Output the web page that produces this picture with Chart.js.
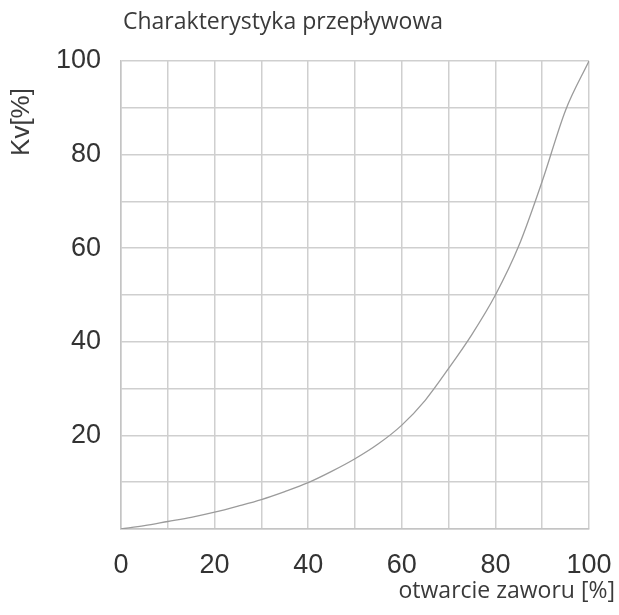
<!DOCTYPE html>
<html>
<head>
<meta charset="utf-8">
<script src="https://cdn.jsdelivr.net/npm/chart.js@4/dist/chart.umd.min.js"></script>
<style>
  html, body { margin: 0; padding: 0; background: #fff; overflow: hidden; }
  #wrap { width: 619px; height: 615px; position: relative; }
  canvas { display: block; }
</style>
</head>
<body>
<div id="wrap"><canvas id="kvChart"></canvas></div>
<script>
// valve opening [%] and Kv [%]
const openPct = [0, 5, 10, 15, 20, 25, 30, 35, 40, 45, 50, 55, 60, 65, 70, 75, 80, 85, 90, 95, 100];
const kvPct = [0, 0.7, 1.6, 2.5, 3.6, 4.9, 6.3, 8.0, 9.9, 12.3, 15, 18.2, 22.2, 27.5, 34.3, 41.6, 50, 60.5, 74.3, 89.5, 100];
const xTickLabels = [0, 20, 40, 60, 80, 100];
const yTickLabels = [20, 40, 60, 80, 100];

const chartTitle = 'Charakterystyka przepływowa';
const xTitle = 'otwarcie zaworu [%]';
const yTitle = 'Kv[%]';

// titles are drawn by hand so they can sit where the original has them
const titlesPlugin = {
  id: 'titles',
  afterDraw(chart) {
    const { ctx, chartArea } = chart;
    ctx.save();
    ctx.fillStyle = '#3a3a3a';
    ctx.font = '23px "Open Sans"';
    ctx.textBaseline = 'alphabetic';
    ctx.textAlign = 'left';
    ctx.fillText(chartTitle, chartArea.left + 2, 29);

    ctx.textAlign = 'right';
    ctx.fillText(xTitle, chartArea.right + 26, 598);

    ctx.font = '26px "Liberation Sans"';
    ctx.textAlign = 'center';
    ctx.textBaseline = 'middle';
    ctx.translate(22, 122);
    ctx.rotate(-Math.PI / 2);
    ctx.fillText(yTitle, 0, 0);
    ctx.restore();
  }
};

const points = openPct.map((x, i) => ({ x: x, y: kvPct[i] }));

new Chart(document.getElementById('kvChart'), {
  type: 'line',
  data: {
    datasets: [{
      data: points,
      borderColor: '#9b9b9b',
      borderWidth: 1.3,
      pointRadius: 0,
      fill: false,
      cubicInterpolationMode: 'monotone'
    }]
  },
  options: {
    responsive: true,
    maintainAspectRatio: false,
    animation: false,
    layout: { padding: { left: 0, right: 30, top: 61, bottom: 0 } },
    plugins: {
      legend: { display: false },
      title: { display: false },
      tooltip: { enabled: false }
    },
    scales: {
      x: {
        type: 'linear',
        min: 0,
        max: 100,
        afterFit(scale) {
          scale.height = 86;
          scale.paddingLeft = 0;
          scale.paddingRight = 0;
        },
        grid: { color: '#cfcfcf', lineWidth: 1.5, drawTicks: false },
        border: { color: '#c4c4c4', width: 1.5 },
        ticks: {
          stepSize: 10,
          autoSkip: false,
          maxRotation: 0,
          padding: 20,
          color: '#333',
          font: { family: '"Liberation Sans"', size: 27 },
          callback: v => xTickLabels.includes(v) ? v : ''
        }
      },
      y: {
        min: 0,
        max: 100,
        afterFit(scale) { scale.width = 121; },
        grid: { color: '#cfcfcf', lineWidth: 1.5, drawTicks: false },
        border: { color: '#c4c4c4', width: 1.5 },
        ticks: {
          stepSize: 10,
          autoSkip: false,
          padding: 20,
          color: '#333',
          font: { family: '"Liberation Sans"', size: 27 },
          callback: v => yTickLabels.includes(v) ? v : ''
        }
      }
    }
  },
  plugins: [titlesPlugin]
});
</script>
</body>
</html>
